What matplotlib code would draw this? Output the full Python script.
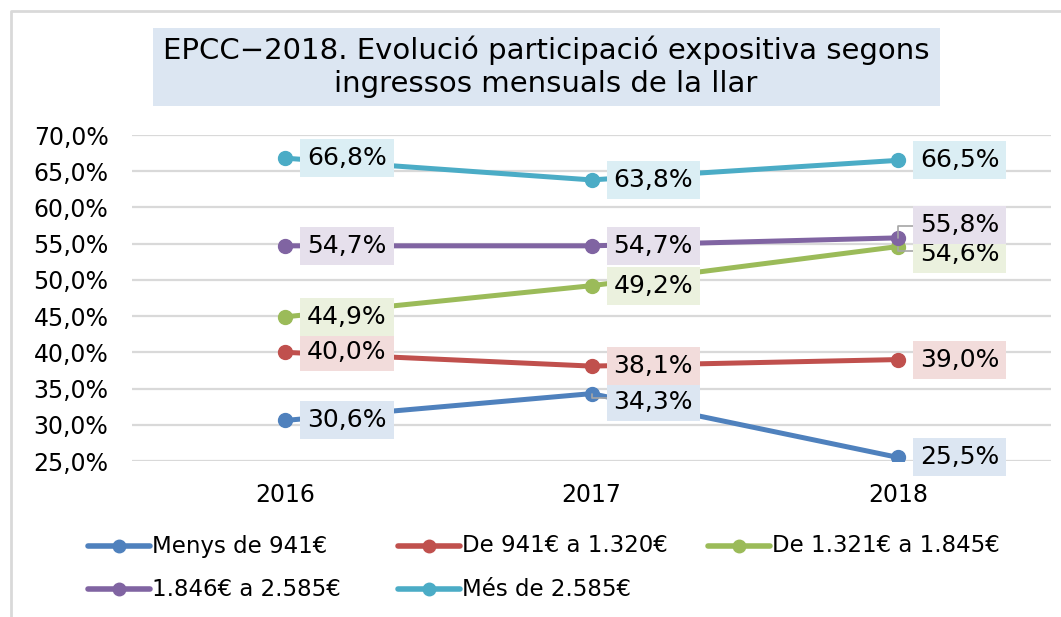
import matplotlib
matplotlib.use("Agg")
import matplotlib.pyplot as plt
from matplotlib.lines import Line2D

plt.rcParams["font.family"] = ["DejaVu Sans"]

# ── data ──────────────────────────────────────────────
years = ["2016", "2017", "2018"]
series_names = ["Menys de 941€", "De 941€ a 1.320€", "De 1.321€ a 1.845€",
                "1.846€ a 2.585€", "Més de 2.585€"]
menys_941 = [30.6, 34.3, 25.5]
de_941_1320 = [40.0, 38.1, 39.0]
de_1321_1845 = [44.9, 49.2, 54.6]
de_1846_2585 = [54.7, 54.7, 55.8]
mes_2585 = [66.8, 63.8, 66.5]
values = [menys_941, de_941_1320, de_1321_1845, de_1846_2585, mes_2585]

colors = ["#4F81BD", "#C0504D", "#9BBB59", "#8064A2", "#4BACC6"]
label_fill = ["#DCE6F2", "#F2DCDB", "#EBF1DE", "#E6E0EC", "#DBEEF4"]

# per-label vertical nudge (pixels) to mimic the reference placement
nudge = {
    (0, 1): -8, (3, 2): 13, (2, 2): -7,
}

W, H = 1061, 617
fig = plt.figure(figsize=(W / 100, H / 100), dpi=100)
ax = fig.add_axes([132 / W, 1 - 461 / H, 919 / W, 326 / H])

x = list(range(len(years)))
for i, (name, vals) in enumerate(zip(series_names, values)):
    ax.plot(x, vals, color=colors[i], lw=3.6, marker="o", markersize=10,
            solid_capstyle="round", label=name, zorder=3)
    for j, v in enumerate(vals):
        dy = nudge.get((i, j), 0)
        ax.annotate(f"{v:.1f}%".replace(".", ","), xy=(j, v),
                    xytext=(22, dy), textcoords="offset pixels",
                    ha="left", va="center", fontsize=18, color="#000000",
                    bbox=dict(boxstyle="square,pad=0.28", fc=label_fill[i], ec="none"),
                    zorder=4)

# leader lines (grey) like the Excel callouts
lead = dict(arrowstyle="-", color="#A6A6A6", lw=1.2,
            connectionstyle="angle,angleA=0,angleB=90", shrinkA=0, shrinkB=0)
ax.annotate("", xy=(1, menys_941[1]), xytext=(1.05, menys_941[1] - 0.6), arrowprops=lead)
ax.annotate("", xy=(2, de_1846_2585[2]), xytext=(2.05, de_1846_2585[2] + 1.7), arrowprops=lead)
ax.annotate("", xy=(2, de_1321_1845[2]), xytext=(2.05, de_1321_1845[2] - 0.6), arrowprops=lead)

ax.set_xlim(-0.5, 2.5)
ax.set_ylim(25, 70)
ax.set_yticks([25, 30, 35, 40, 45, 50, 55, 60, 65, 70])
ax.set_yticklabels([f"{t:.1f}%".replace(".", ",") for t in ax.get_yticks()])
ax.set_xticks(x)
ax.set_xticklabels(years)
ax.tick_params(length=0, labelsize=17, colors="#000000")
ax.tick_params(axis="y", pad=17)
ax.tick_params(axis="x", pad=16)
for s in ax.spines.values():
    s.set_visible(False)
ax.grid(axis="y", color="#D9D9D9", lw=1.6)
ax.set_axisbelow(True)

# title box
fig.patches.append(plt.Rectangle((153 / W, 1 - 106 / H), 787 / W, 78 / H,
                                 transform=fig.transFigure, fc="#DCE6F2", ec="none"))
fig.text(546 / W, 1 - 67 / H,
         "EPCC\u22122018. Evolució participació expositiva segons\ningressos mensuals de la llar",
         ha="center", va="center", fontsize=21, linespacing=1.25)

# outer frame (top and left edges visible)
fig.add_artist(Line2D([11 / W, 11 / W, 1], [0, 1 - 11 / H, 1 - 11 / H],
                      transform=fig.transFigure, color="#D9D9D9", lw=2))

# legend, laid out row by row like the reference
col_x = [88, 398, 708]
row_y = [546, 589]
for k, (name, c) in enumerate(zip(series_names, colors)):
    cx = col_x[k % 3]
    cy = row_y[k // 3]
    fig.add_artist(Line2D([cx / W, (cx + 62) / W], [1 - cy / H, 1 - cy / H],
                          transform=fig.transFigure, color=c, lw=4,
                          solid_capstyle="round"))
    fig.add_artist(Line2D([(cx + 31) / W], [1 - cy / H], transform=fig.transFigure,
                          color=c, marker="o", markersize=9, lw=0))
    fig.text((cx + 64) / W, 1 - cy / H, name, ha="left", va="center", fontsize=16.5)

fig.savefig("out.png", dpi=100)
